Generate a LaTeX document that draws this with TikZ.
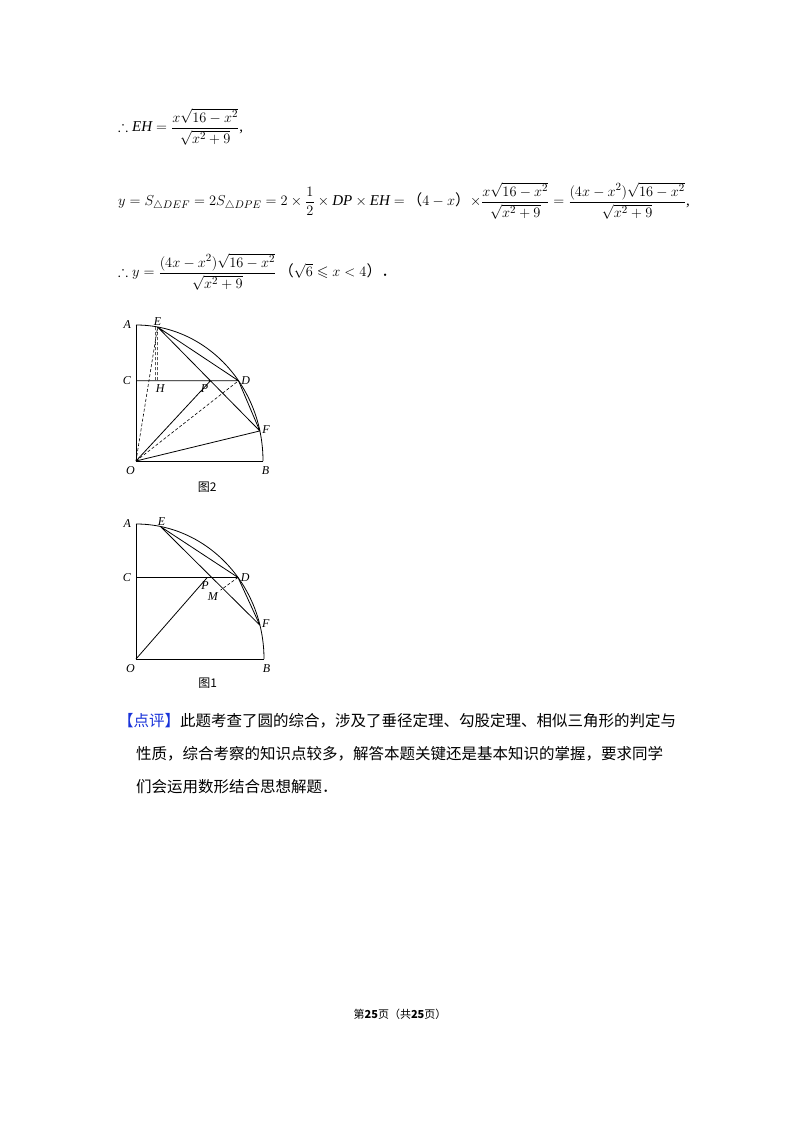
\documentclass[tikz,border=0pt]{standalone}
\usepackage{amsmath,amssymb}
\usepackage{fontspec}
\setmainfont{Liberation Serif}
\newfontfamily\cjk{Noto Sans CJK SC}
\begin{document}
\begin{tikzpicture}[x=1pt,y=-1pt,
  lab/.style={font=\fontsize{12}{12}\selectfont\itshape,inner sep=1pt},
  ln/.style={line width=0.8pt},
  dsh/.style={line width=0.6pt,dashed,dash pattern=on 3pt off 2pt},
  txt/.style={anchor=west,inner sep=0pt,font=\fontsize{15}{17}\selectfont},
  cn/.style={anchor=west,inner sep=0pt,font=\fontsize{15.5}{16}\selectfont\cjk}]
\useasboundingbox (0,0) rectangle (800,1132);
% formulas
\node[txt] (f1) at (118,127) {$\therefore \mathit{EH}=\dfrac{x\sqrt{16-x^2}}{\sqrt{x^2+9}}$,};
\node[txt] (f2) at (118,201) {$y=S_{\triangle DEF}=2S_{\triangle DPE}=2\times\dfrac12\times \mathit{DP}\times \mathit{EH}=$\,{\cjk（}$4-x${\cjk）}$\times\dfrac{x\sqrt{16-x^2}}{\sqrt{x^2+9}}=\dfrac{(4x-x^2)\sqrt{16-x^2}}{\sqrt{x^2+9}}$,};
\node[txt] (f3) at (118,272) {$\therefore y=\dfrac{(4x-x^2)\sqrt{16-x^2}}{\sqrt{x^2+9}}$\,{\cjk（}$\sqrt6\leqslant x<4${\cjk）．}};
% figure 2
\begin{scope}[shift={(136,461)},x=127pt,y=136pt]
\coordinate (O2) at (0,0); \coordinate (A2) at (0,1); \coordinate (B2) at (1,0);
\coordinate (C2) at (0,0.59); \coordinate (D2) at (0.807,0.59);
\coordinate (E2) at (0.17,0.985); \coordinate (F2) at (0.975,0.221);
\coordinate (P2) at (0.586,0.59); \coordinate (H2) at (0.17,0.59);
\draw[ln] (A2)--(O2)--(B2);
\draw[ln] (B2) arc[start angle=0,end angle=90,x radius=1,y radius=1];
\draw[ln] (C2)--(D2) (O2)--(P2) (O2)--(F2) (E2)--(D2) (E2)--(F2) (D2)--(F2);
\draw[dsh] (O2)--(E2) (O2)--(D2) (E2)--(H2) ([xshift=-2pt]E2)--([xshift=-2pt]H2);
\node[lab,anchor=east] at (-0.03,1) {A};
\node[lab,anchor=south] at (0.17,0.985) {E};
\node[lab,anchor=east] at (-0.03,0.59) {C};
\node[lab,anchor=west] at (0.82,0.59) {D};
\node[lab,anchor=north] at (0.19,0.57) {H};
\node[lab,anchor=north] at (0.54,0.57) {P};
\node[lab,anchor=west] at (0.985,0.23) {F};
\node[lab,anchor=north east] at (0,-0.03) {O};
\node[lab,anchor=north] at (1.02,-0.03) {B};
\node[inner sep=0pt,font=\fontsize{12}{12}\selectfont\cjk] at (0.56,-0.19) {图2};
\end{scope}
% figure 1
\begin{scope}[shift={(136,659)},x=128pt,y=135pt]
\coordinate (O1) at (0,0); \coordinate (A1) at (0,1); \coordinate (B1) at (1,0);
\coordinate (C1) at (0,0.604); \coordinate (D1) at (0.797,0.604);
\coordinate (E1) at (0.19,0.982); \coordinate (F1) at (0.968,0.25);
\coordinate (P1) at (0.557,0.604);
\coordinate (M1) at (0.66,0.51);
\draw[ln] (A1)--(O1)--(B1);
\draw[ln] (B1) arc[start angle=0,end angle=90,x radius=1,y radius=1];
\draw[ln] (C1)--(D1) (O1)--(P1) (E1)--(D1) (E1)--(F1) (D1)--(F1);
\draw[dsh] (D1)--(M1);
\node[lab,anchor=east] at (-0.03,1) {A};
\node[lab,anchor=south] at (0.2,0.982) {E};
\node[lab,anchor=east] at (-0.03,0.604) {C};
\node[lab,anchor=west] at (0.81,0.604) {D};
\node[lab,anchor=north] at (0.54,0.585) {P};
\node[lab,anchor=north] at (0.6,0.5) {M};
\node[lab,anchor=west] at (0.975,0.26) {F};
\node[lab,anchor=north east] at (0,-0.03) {O};
\node[lab,anchor=north] at (1.02,-0.03) {B};
\node[inner sep=0pt,font=\fontsize{12}{12}\selectfont\cjk] at (0.56,-0.18) {图1};
\end{scope}
% comment
\node[cn] (c1) at (118,721) {{\color[rgb]{0.1,0.2,0.85}【点评】}此题考查了圆的综合，涉及了垂径定理、勾股定理、相似三角形的判定与};
\node[cn] (c2) at (136,754) {性质，综合考察的知识点较多，解答本题关键还是基本知识的掌握，要求同学};
\node[cn] (c3) at (136,787) {们会运用数形结合思想解题．};
\node[inner sep=0pt,font=\fontsize{11}{12}\selectfont\cjk] (ft) at (400,1014) {第\textbf{25}页（共\textbf{25}页）};
\end{tikzpicture}
\end{document}
